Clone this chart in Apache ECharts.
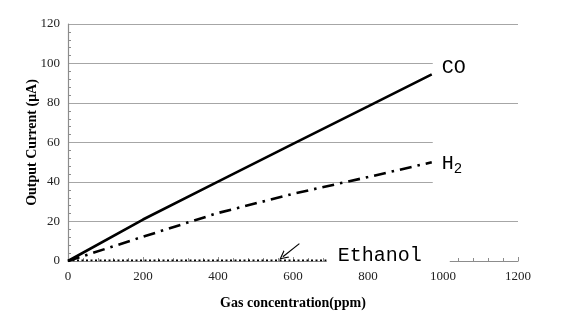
<!DOCTYPE html>
<html>
<head>
<meta charset="utf-8">
<script src="https://cdn.jsdelivr.net/npm/echarts@6/dist/echarts.min.js"></script>
<style>html,body{margin:0;padding:0;background:#fff}#c{width:565px;height:335px}</style>
</head>
<body>
<div id="c"></div>
<script>
var ppm = [0, 200, 400, 600, 800, 970];
var coValues = [0, 21, 40.2, 59.3, 78.3, 94.5];
var h2Values = [0, 12.3, 24.3, 34, 42.5, 50];
var ethanolPpm = [0, 100, 200, 300, 400, 500, 600, 690];
var ethanolValues = [0.3, 0.3, 0.3, 0.3, 0.3, 0.3, 0.3, 0.3];
var arrowFrom = [617, 8.8];
var arrowTo = [573, 2.2];
var xTicks = [0, 200, 400, 600, 800, 1000, 1200];
var yTicks = [0, 20, 40, 60, 80, 100, 120];

function pairs(xs, ys) { return xs.map(function (x, i) { return [x, ys[i]]; }); }

var serif = '"Liberation Serif", "DejaVu Serif", serif';
var mono = '"Liberation Mono", "DejaVu Sans Mono", monospace';
var chart = echarts.init(document.getElementById('c'));
chart.setOption({
  animation: false,
  backgroundColor: '#fff',
  grid: { left: 68, right: 47, top: 24, bottom: 74 },
  xAxis: {
    type: 'value', min: xTicks[0], max: xTicks[xTicks.length - 1], interval: 200,
    name: 'Gas concentration(ppm)', nameLocation: 'middle', nameGap: 35, nameMoveOverlap: false,
    nameTextStyle: { fontFamily: serif, fontWeight: 'bold', fontSize: 14, color: '#000' },
    axisLine: { lineStyle: { color: '#8c8c8c', width: 1.2 } },
    axisTick: { show: true, inside: true, length: 4, lineStyle: { color: '#8c8c8c' } },
    minorTick: { show: true, splitNumber: 5, length: 3, lineStyle: { color: '#8c8c8c' } },
    splitLine: { show: false },
    axisLabel: { fontFamily: serif, fontSize: 13, color: '#222', margin: 9,
      formatter: function (v) { return String(v); } }
  },
  yAxis: {
    type: 'value', min: yTicks[0], max: yTicks[yTicks.length - 1], interval: 20,
    name: 'Output Current (\u03bcA)', nameLocation: 'middle', nameGap: 29, nameMoveOverlap: false,
    nameTextStyle: { fontFamily: serif, fontWeight: 'bold', fontSize: 14, color: '#000' },
    axisLine: { show: true, lineStyle: { color: '#8c8c8c', width: 1.2 } },
    axisTick: { show: false, inside: true },
    minorTick: { show: true, splitNumber: 5, length: 3, lineStyle: { color: '#8c8c8c' } },
    splitLine: { show: true, lineStyle: { color: '#a6a6a6', width: 1.2 } },
    axisLabel: { fontFamily: serif, fontSize: 13, color: '#222', margin: 8 }
  },
  series: [
    {
      name: 'CO', type: 'line', data: pairs(ppm, coValues), showSymbol: false, symbol: 'none',
      lineStyle: { color: '#000', width: 2.6 }, z: 3,
      endLabel: {
        show: true, formatter: 'CO', fontFamily: mono, fontSize: 20, color: '#000',
        backgroundColor: '#fff', padding: [10, 60, 10, 9], distance: 1, offset: [0, -7]
      }
    },
    {
      name: 'H2', type: 'line', data: pairs(ppm, h2Values), showSymbol: false, symbol: 'none',
      lineStyle: { color: '#000', width: 2.6, type: [12, 6, 2.5, 6] }, z: 3,
      endLabel: {
        show: true, formatter: '{a|H}{b|2}', backgroundColor: '#fff', padding: [14, 60, 12, 9],
        distance: 1, offset: [0, 0],
        rich: {
          a: { fontFamily: mono, fontSize: 20, color: '#000' },
          b: { fontFamily: mono, fontSize: 14, color: '#000', padding: [12, 0, 0, 0] }
        }
      }
    },
    {
      name: 'Ethanol', type: 'line', data: pairs(ethanolPpm, ethanolValues), showSymbol: false, symbol: 'none',
      lineStyle: { color: '#000', width: 1.6, type: [2, 2.5] }, z: 3,
      endLabel: {
        show: true, formatter: 'Ethanol', fontFamily: mono, fontSize: 20, color: '#000',
        backgroundColor: '#fff', padding: [6, 28, 6, 11], distance: 0, offset: [0, -5]
      },
      markLine: {
        silent: true, animation: false,
        symbol: ['none', 'path://M0,10 L5,0 L10,10 L8.6,10 L5,2.8 L1.4,10 Z'], symbolSize: [9, 9],
        lineStyle: { color: '#000', width: 1.2, type: 'solid' },
        label: { show: false },
        data: [[{ coord: arrowFrom }, { coord: arrowTo }]]
      }
    }
  ]
});
</script>
</body>
</html>
